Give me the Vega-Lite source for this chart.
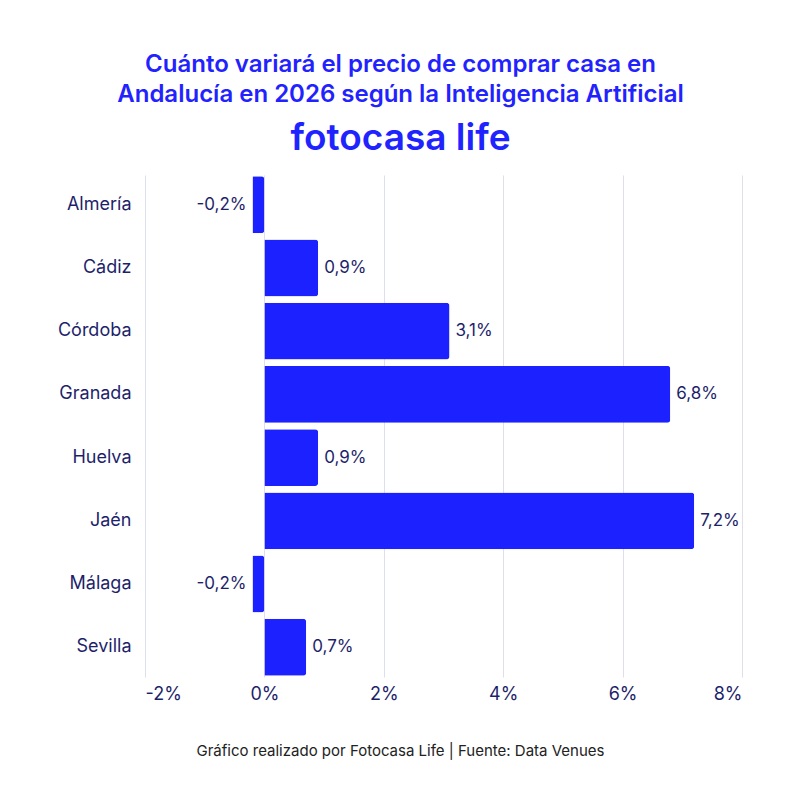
{
  "$schema": "https://vega.github.io/schema/vega-lite/v6.json",
  "autosize": "none",
  "width": 597,
  "height": 502,
  "padding": {"left": 145, "top": 175, "right": 58, "bottom": 123},
  "background": "white",
  "title": {
    "text": ["Cuánto variará el precio de comprar casa en", "Andalucía en 2026 según la Inteligencia Artificial"],
    "subtitle": "fotocasa life",
    "anchor": "middle",
    "frame": "group",
    "dx": -43,
    "offset": 18,
    "font": "Inter",
    "fontSize": 24,
    "fontWeight": 600,
    "color": "#2222ff",
    "lineHeight": 30,
    "subtitleFont": "Inter",
    "subtitleFontSize": 37,
    "subtitleFontWeight": 600,
    "subtitleColor": "#1f24ff",
    "subtitlePadding": 14
  },
  "data": {
    "values": [
      {"provincia": "Almería", "valor": -0.2, "label": "-0,2%"},
      {"provincia": "Cádiz", "valor": 0.9, "label": "0,9%"},
      {"provincia": "Córdoba", "valor": 3.1, "label": "3,1%"},
      {"provincia": "Granada", "valor": 6.8, "label": "6,8%"},
      {"provincia": "Huelva", "valor": 0.9, "label": "0,9%"},
      {"provincia": "Jaén", "valor": 7.2, "label": "7,2%"},
      {"provincia": "Málaga", "valor": -0.2, "label": "-0,2%"},
      {"provincia": "Sevilla", "valor": 0.7, "label": "0,7%"}
    ]
  },
  "encoding": {
    "y": {
      "field": "provincia",
      "type": "nominal",
      "sort": null,
      "scale": {"paddingInner": 0.1, "paddingOuter": 0.02},
      "axis": {
        "title": null,
        "domain": false,
        "ticks": false,
        "labelPadding": 14,
        "labelFont": "Inter",
        "labelFontSize": 18,
        "labelColor": "#1e1f6b"
      }
    },
    "x": {
      "field": "valor",
      "type": "quantitative",
      "scale": {"domain": [-2, 8], "nice": false},
      "axis": {
        "values": [-2, 0, 2, 4, 6, 8],
        "labelExpr": "datum.value + '%'",
        "domain": false,
        "ticks": false,
        "grid": true,
        "gridColor": "#dfdfec",
        "gridWidth": 1,
        "labelPadding": 8,
        "labelFont": "Inter",
        "labelFontSize": 18,
        "labelColor": "#1e1f6b",
        "title": "Gráfico realizado por Fotocasa Life | Fuente: Data Venues",
        "titleFont": "Inter",
        "titleFontSize": 15,
        "titleFontWeight": 400,
        "titleColor": "#222222",
        "titlePadding": 40,
        "titleX": 255
      }
    }
  },
  "layer": [
    {
      "mark": {"type": "bar", "color": "#1c22ff", "cornerRadiusEnd": 3}
    },
    {
      "transform": [{"filter": "datum.valor >= 0"}],
      "mark": {"type": "text", "align": "left", "dx": 6, "font": "Inter", "fontSize": 17, "color": "#1e1f6b"},
      "encoding": {"text": {"field": "label"}}
    },
    {
      "transform": [{"filter": "datum.valor < 0"}],
      "mark": {"type": "text", "align": "right", "dx": -6, "font": "Inter", "fontSize": 17, "color": "#1e1f6b"},
      "encoding": {"text": {"field": "label"}}
    }
  ],
  "config": {"view": {"stroke": null}}
}
